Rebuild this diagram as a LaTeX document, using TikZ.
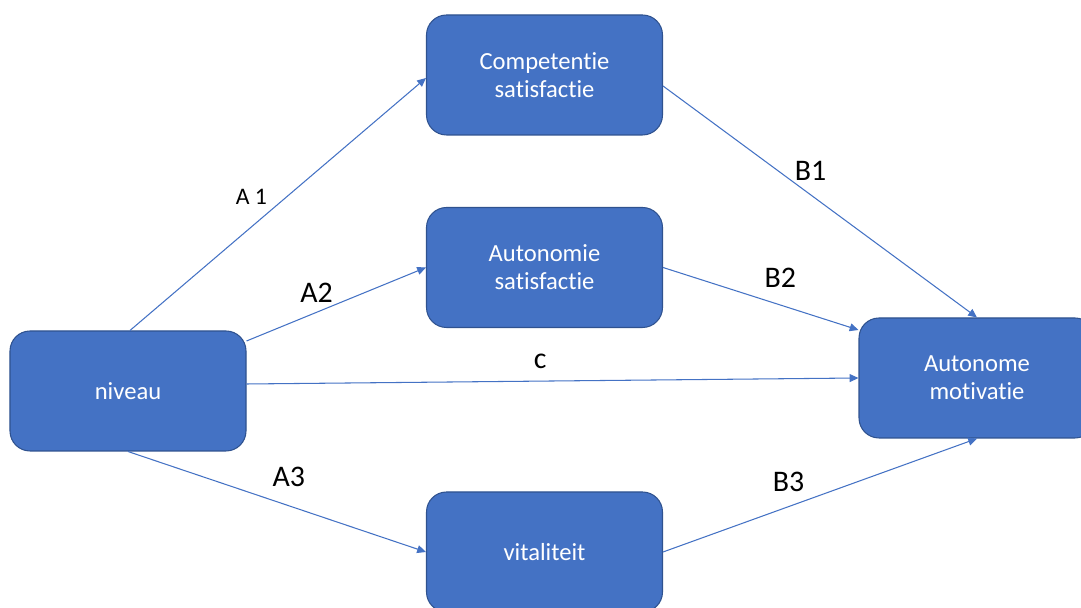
\documentclass[tikz,border=0pt]{standalone}
\usepackage{fontspec}
\setmainfont{Carlito}[Ligatures=NoCommon]
\usepackage{xcolor}
\usetikzlibrary{arrows.meta, positioning}

\definecolor{boxblue}{HTML}{4472C4}
\definecolor{boxedge}{HTML}{2F528F}

\begin{document}
\begin{tikzpicture}[
    >={Triangle[length=5pt,width=4.5pt]},
    var/.style   = {rectangle, rounded corners=0.4cm, draw=boxedge, line width=0.6pt,
                    fill=boxblue, text=white, minimum width=4.72cm,
                    minimum height=2.4cm, align=center, font=\fontsize{14}{16}\selectfont},
    path/.style  = {->, draw=boxblue, line width=0.6pt},
    coef/.style  = {font=\fontsize{17}{20}\selectfont, inner sep=1pt},
    coefs/.style = {font=\fontsize{13.5}{16}\selectfont, inner sep=1pt}
  ]
  \useasboundingbox (0,0) rectangle (21.62,12.16);

  % ── Variables ───────────────────────────────────────────────
  \node[var] (niv)  at (2.56, 4.34)  {niveau};
  \node[var] (comp) at (10.89,10.66) {Competentie\\satisfactie};
  \node[var] (auto) at (10.89, 6.81) {Autonomie\\satisfactie};
  \node[var] (vit)  at (10.89, 1.12) {vitaliteit};
  \node[var] (mot)  at (19.54, 4.60) {Autonome\\motivatie};

  % ── a-paths ─────────────────────────────────────────────────
  \draw[path] ([xshift=0.04cm]niv.north) -- node[coefs,pos=0.41,above=0.4cm]{A 1} ([yshift=-0.06cm]comp.west);
  \draw[path] ([yshift=1.0cm]niv.east) -- node[coef,pos=0.39,above=0.16cm]{A2} (auto.west);
  \draw[path] (niv.south) -- node[coef,pos=0.54,above=0.34cm]{A3} (vit.west);

  % ── direct path ─────────────────────────────────────────────
  \draw[path] ([yshift=0.14cm]niv.east) -- node[coef,pos=0.48,above=0.2cm]{c} (mot.west);

  % ── b-paths ─────────────────────────────────────────────────
  \draw[path] ([yshift=-0.22cm]comp.east) -- node[coef,pos=0.47,above=0.24cm]{B1} (mot.north);
  \draw[path] (auto.east) -- node[coef,pos=0.6,above=0.3cm]{B2} ([yshift=0.96cm]mot.west);
  \draw[path] (vit.east) -- node[coef,pos=0.4,above=0.26cm]{B3} (mot.south);

\end{tikzpicture}
\end{document}
